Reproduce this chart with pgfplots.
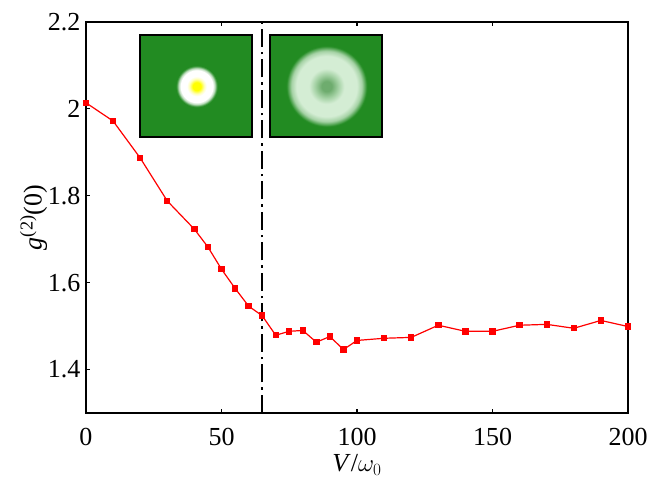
\documentclass[border=0pt]{standalone}
\usepackage{pgfplots}
\pgfplotsset{compat=1.18}
\usepackage{fontspec}
\setmainfont{Liberation Serif}
\definecolor{fgreen}{RGB}{34,139,34}
\definecolor{ringhi}{RGB}{212,237,212}
\definecolor{ringmid}{RGB}{165,210,165}
\definecolor{ringin}{RGB}{110,172,110}

\pgfdeclareradialshading{spotA}{\pgfpoint{0bp}{0bp}}{%
  color(0bp)=(yellow); color(4bp)=(yellow); color(7.5bp)=(yellow!25!white);
  color(10bp)=(white); color(16bp)=(white); color(18bp)=(fgreen!30!white);
  color(20.5bp)=(fgreen); color(25bp)=(fgreen)}
\pgfdeclareradialshading{spotB}{\pgfpoint{0bp}{0bp}}{%
  color(0bp)=(ringin); color(3bp)=(ringin); color(7bp)=(ringmid);
  color(10.5bp)=(ringhi); color(18bp)=(ringhi); color(21bp)=(ringmid);
  color(24bp)=(fgreen); color(25bp)=(fgreen)}

\begin{document}
\begin{tikzpicture}
\begin{axis}[
    scale only axis,
    width=542bp,
    height=391bp,
    xmin=0, xmax=200,
    ymin=1.3, ymax=2.2,
    xtick={0,50,100,150,200},
    ytick={1.4,1.6,1.8,2,2.2},
    tick align=inside,
    xtick pos=both,
    ytick pos=left,
    major tick length=4bp,
    axis line style={line width=2.5bp},
    every tick/.style={black, line width=1.2bp},
    /pgf/number format/assume math mode=true,
    tick label style={font=\fontsize{26bp}{30bp}\selectfont},
    label style={font=\fontsize{26bp}{30bp}\selectfont},
    xticklabel style={yshift=-12bp},
    yticklabel style={xshift=-2bp},
    xlabel={\textit{V}/$\omega_0$},
    ylabel={\textit{g}\textsuperscript{(2)}(0)},
    xlabel style={at={(axis description cs:0.5,0)}, anchor=north, yshift=-38bp},
    ylabel style={yshift=-6bp},
    clip=false,
]
% dash-dot transition line
\addplot[black, line width=1.8bp, dash pattern=on 18bp off 5bp on 2.5bp off 5bp, no marks]
  coordinates {(65,1.3) (65,2.2)};

\addplot[red, line width=1.2bp, mark=square*, mark size=2.6bp,
         mark options={solid, fill=red}]
  coordinates {
    (0,2.014) (10,1.972) (20,1.887) (30,1.788) (40,1.723) (45,1.682)
    (50,1.631) (55,1.587) (60,1.546) (65,1.524) (70,1.479) (75,1.488)
    (80,1.490) (85,1.463) (90,1.476) (95,1.446) (100,1.467) (110,1.472)
    (120,1.474) (130,1.502) (140,1.488) (150,1.488) (160,1.502)
    (170,1.504) (180,1.495) (190,1.513) (200,1.499)
  };

% insets
\fill[fgreen] (axis cs:19.9,1.936) rectangle (axis cs:61.3,2.169);
\shade[shading=spotA] (axis cs:40.85,2.052) circle[radius=25bp];
\draw[black, line width=2bp] (axis cs:19.9,1.936) rectangle (axis cs:61.3,2.169);

\fill[fgreen] (axis cs:67.9,1.936) rectangle (axis cs:109.2,2.169);
\begin{scope}
\clip (axis cs:67.9,1.936) rectangle (axis cs:109.2,2.169);
\shade[shading=spotB] (axis cs:88.8,2.052) circle[radius=42bp];
\end{scope}
\draw[black, line width=2bp] (axis cs:67.9,1.936) rectangle (axis cs:109.2,2.169);
\end{axis}
\pgfresetboundingbox
\path[use as bounding box] ([shift={(-86bp,-66bp)}]current axis.south west)
  rectangle ([shift={(32bp,22bp)}]current axis.north east);
\end{tikzpicture}
\end{document}
